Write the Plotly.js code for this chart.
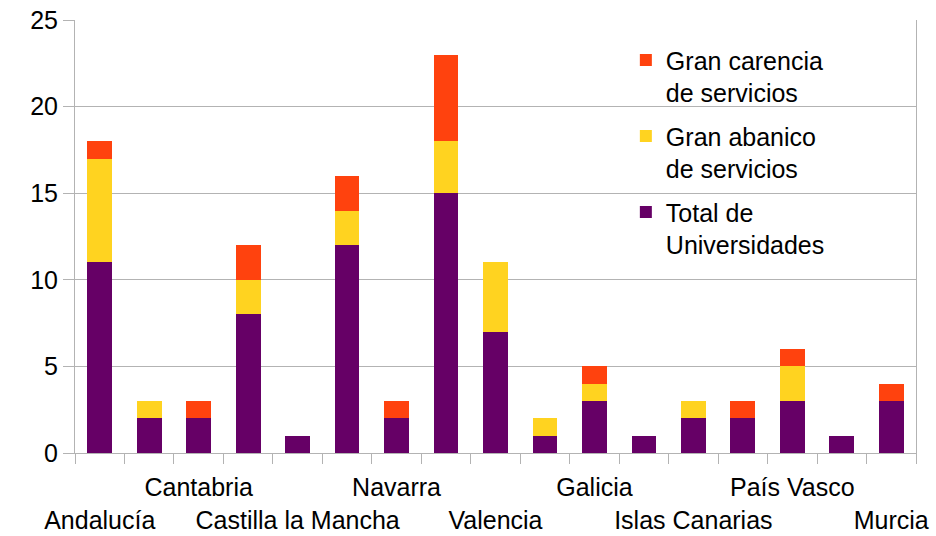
<!DOCTYPE html>
<html>
<head>
<meta charset="utf-8">
<script src="https://cdn.plot.ly/plotly-3.0.1.min.js"></script>
<style>html,body{margin:0;padding:0;background:#fff;}#chart{width:936px;height:536px;}</style>
</head>
<body>
<div id="chart"></div>
<script>
// Categories (only every other label is visible in the original)
var regiones = ["Andalucía", "Aragón", "Cantabria", "Castilla y León", "Castilla la Mancha",
  "Cataluña", "Navarra", "Madrid", "Valencia", "Extremadura", "Galicia", "Islas Baleares",
  "Islas Canarias", "La Rioja", "País Vasco", "Asturias", "Murcia"];
var etiquetas = ["<br>Andalucía", "", "Cantabria", "", "<br>Castilla la Mancha",
  "", "Navarra", "", "<br>Valencia", "", "Galicia", "",
  "<br>Islas Canarias", "", "País Vasco", "", "<br>Murcia"];

var totalUniversidades = [11, 2, 2, 8, 1, 12, 2, 15, 7, 1, 3, 1, 2, 2, 3, 1, 3];
var granAbanico        = [6, 1, 0, 2, 0, 2, 0, 3, 4, 1, 1, 0, 1, 0, 2, 0, 0];
var granCarencia       = [1, 0, 1, 2, 0, 2, 1, 5, 0, 0, 1, 0, 0, 1, 1, 0, 1];

var nombres = ["Total de<br>Universidades", "Gran abanico<br>de servicios", "Gran carencia<br>de servicios"];
var colores = ["#660066", "#FFD320", "#FF420E"];
var series = [totalUniversidades, granAbanico, granCarencia];

var FONT = "Liberation Sans, Arial, sans-serif";

var data = series.map(function (vals, i) {
  return {
    type: "bar",
    x: regiones,
    y: vals,
    name: nombres[i],
    legendgroup: "g" + i,
    legendrank: 1000 + (series.length - i),
    marker: {color: colores[i], line: {width: 0}},
    hoverinfo: "x+y+name"
  };
});

var layout = {
  width: 936,
  height: 536,
  margin: {l: 75, r: 20, t: 20, b: 83, pad: 0},
  paper_bgcolor: "#ffffff",
  plot_bgcolor: "#ffffff",
  barmode: "stack",
  bargap: 0.5,
  font: {family: FONT, size: 25, color: "#000000"},
  showlegend: true,
  legend: {
    x: 0.655, y: 0.96, xanchor: "left", yanchor: "top",
    bgcolor: "rgba(0,0,0,0)", borderwidth: 0,
    traceorder: "grouped", valign: "top",
    tracegroupgap: 8,
    font: {family: FONT, size: 25, color: "#000000"}
  },
  xaxis: {
    type: "category",
    tickmode: "array",
    tickvals: regiones,
    ticktext: etiquetas,
    tickangle: 0,
    tickson: "boundaries",
    ticks: "outside",
    ticklen: 10,
    tickcolor: "#b3b3b3",
    tickwidth: 1,
    ticklabelstandoff: 12,
    showline: true,
    linecolor: "#b3b3b3",
    linewidth: 1,
    showgrid: false,
    zeroline: false,
    tickfont: {family: FONT, size: 25, color: "#000000"}
  },
  yaxis: {
    range: [0, 25],
    dtick: 5,
    tick0: 0,
    ticks: "outside",
    ticklen: 11,
    tickcolor: "#b3b3b3",
    tickwidth: 1,
    showline: true,
    mirror: true,
    linecolor: "#b3b3b3",
    linewidth: 1,
    showgrid: true,
    gridcolor: "#b3b3b3",
    gridwidth: 1,
    zeroline: false,
    tickfont: {family: FONT, size: 25, color: "#000000"}
  }
};

Plotly.newPlot("chart", data, layout, {displayModeBar: false, staticPlot: true});
</script>
</body>
</html>
